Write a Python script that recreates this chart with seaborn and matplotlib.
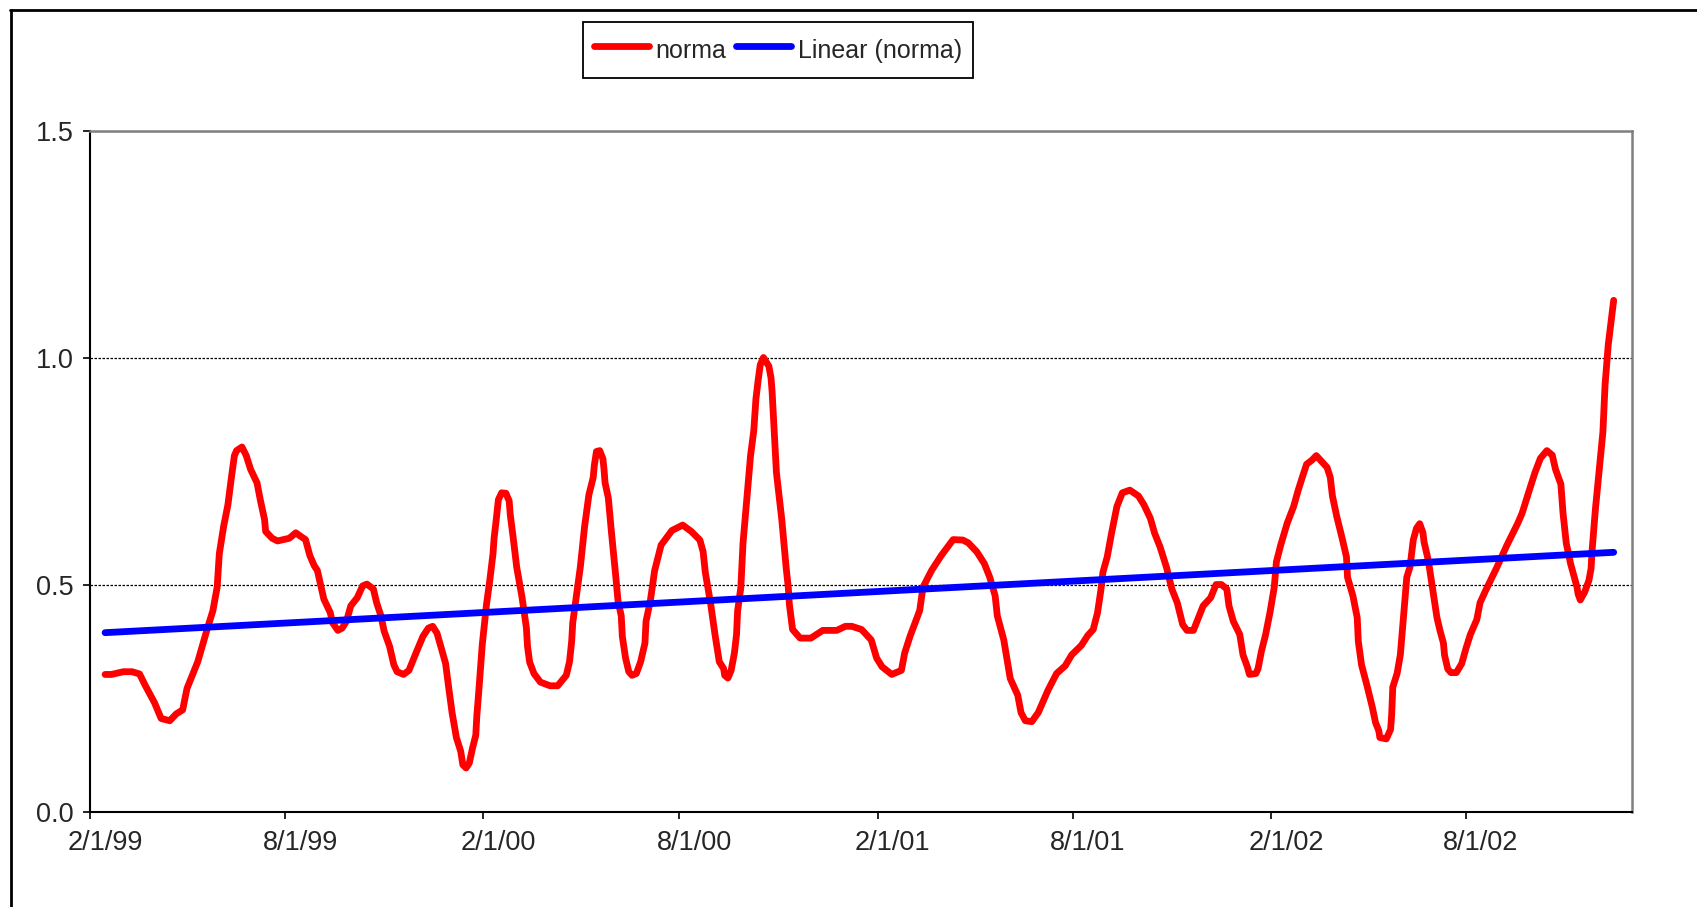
import matplotlib
matplotlib.use("Agg")
import matplotlib.pyplot as plt
import matplotlib.dates as mdates
import matplotlib.transforms as mtransforms
from matplotlib.lines import Line2D
import pandas as pd
import seaborn as sns

# x values are days counted from start_date
start_date = "1999-02-01"
norma_days = [
    14, 20, 31, 39, 46, 51, 60, 66, 74, 80, 86, 90, 100, 109, 114, 118, 120, 124, 128, 131,
    134, 136, 141, 145, 149, 155, 158, 162, 163, 169, 174, 185, 191, 195, 200, 204, 208, 211,
    217, 223, 225, 230, 234, 238, 242, 248, 253, 257, 263, 266, 270, 273, 278, 282, 285, 291,
    296, 303, 309, 314, 318, 322, 326, 330, 333, 336, 340, 344, 346, 349, 352, 355, 358, 359,
    361, 364, 368, 371, 374, 375, 377, 379, 382, 386, 389, 390, 393, 396, 401, 405, 406, 408,
    412, 418, 427, 434, 442, 445, 447, 448, 452, 455, 459, 463, 467, 468, 470, 473, 476, 477,
    478, 481, 484, 488, 490, 493, 494, 497, 500, 503, 507, 511, 515, 516, 520, 524, 530, 540,
    550, 558, 566, 569, 571, 576, 580, 584, 588, 589, 592, 595, 598, 600, 601, 604, 606, 610,
    613, 616, 618, 620, 622, 625, 630, 632, 633, 635, 637, 642, 646, 648, 649, 652, 659, 669,
    680, 693, 701, 707, 716, 725, 730, 735, 744, 753, 756, 761, 770, 773, 781, 790, 801, 810,
    815, 823, 830, 835, 840, 842, 848, 854, 861, 864, 868, 874, 880, 889, 897, 905, 911, 920,
    926, 931, 935, 938, 940, 944, 948, 953, 958, 965, 973, 978, 984, 988, 993, 999, 1004, 1009,
    1014, 1018, 1024, 1028, 1033, 1040, 1045, 1050, 1055, 1057, 1061, 1067, 1070, 1074, 1076,
    1082, 1084, 1087, 1091, 1095, 1099, 1101, 1105, 1111, 1117, 1121, 1125, 1129, 1134, 1138,
    1143, 1148, 1151, 1153, 1157, 1162, 1166, 1167, 1172, 1176, 1177, 1180, 1185, 1190, 1193,
    1196, 1197, 1203, 1207, 1208, 1209, 1213, 1216, 1219, 1222, 1225, 1228, 1231, 1234, 1237,
    1238, 1242, 1246, 1250, 1253, 1256, 1257, 1260, 1263, 1268, 1273, 1277, 1281, 1287, 1290,
    1295, 1305, 1315, 1325, 1329, 1336, 1341, 1346, 1352, 1357, 1360, 1365, 1367, 1370, 1374,
    1377, 1380, 1381, 1383, 1387, 1391, 1393, 1394, 1397, 1401, 1404, 1406, 1409, 1414,
]
norma_values = [
    0.303, 0.303, 0.309, 0.309, 0.304, 0.280, 0.240, 0.206, 0.201, 0.216, 0.225, 0.272, 0.331,
    0.405, 0.443, 0.495, 0.569, 0.629, 0.677, 0.733, 0.785, 0.796, 0.804, 0.785, 0.755, 0.725,
    0.688, 0.644, 0.618, 0.603, 0.597, 0.603, 0.615, 0.608, 0.600, 0.565, 0.543, 0.532, 0.469,
    0.439, 0.417, 0.400, 0.405, 0.420, 0.454, 0.472, 0.498, 0.502, 0.491, 0.461, 0.432, 0.398,
    0.365, 0.324, 0.309, 0.303, 0.312, 0.353, 0.387, 0.405, 0.409, 0.394, 0.361, 0.327, 0.272,
    0.219, 0.164, 0.134, 0.104, 0.097, 0.108, 0.141, 0.169, 0.212, 0.272, 0.368, 0.458, 0.510,
    0.569, 0.603, 0.644, 0.688, 0.703, 0.702, 0.685, 0.655, 0.599, 0.539, 0.472, 0.405, 0.365,
    0.330, 0.305, 0.286, 0.278, 0.278, 0.301, 0.331, 0.376, 0.417, 0.487, 0.539, 0.629, 0.699,
    0.737, 0.763, 0.794, 0.796, 0.778, 0.755, 0.725, 0.692, 0.614, 0.517, 0.465, 0.432, 0.387,
    0.339, 0.309, 0.301, 0.305, 0.331, 0.372, 0.420, 0.465, 0.532, 0.588, 0.620, 0.632, 0.618,
    0.599, 0.573, 0.528, 0.458, 0.391, 0.331, 0.316, 0.301, 0.295, 0.312, 0.350, 0.391, 0.443,
    0.495, 0.592, 0.703, 0.785, 0.840, 0.910, 0.950, 0.985, 1.001, 0.982, 0.956, 0.926, 0.837,
    0.748, 0.644, 0.539, 0.495, 0.458, 0.402, 0.383, 0.383, 0.400, 0.400, 0.409, 0.409, 0.402,
    0.379, 0.339, 0.320, 0.303, 0.312, 0.350, 0.387, 0.444, 0.495, 0.532, 0.565, 0.600, 0.599,
    0.593, 0.573, 0.547, 0.517, 0.476, 0.432, 0.379, 0.294, 0.257, 0.219, 0.201, 0.199, 0.219,
    0.268, 0.305, 0.322, 0.346, 0.367, 0.389, 0.402, 0.439, 0.487, 0.528, 0.562, 0.614, 0.673,
    0.703, 0.709, 0.696, 0.677, 0.647, 0.614, 0.584, 0.539, 0.491, 0.461, 0.413, 0.400, 0.400,
    0.424, 0.454, 0.472, 0.501, 0.501, 0.491, 0.454, 0.420, 0.391, 0.346, 0.320, 0.303, 0.305,
    0.316, 0.353, 0.391, 0.439, 0.495, 0.551, 0.588, 0.636, 0.673, 0.707, 0.737, 0.766, 0.775,
    0.785, 0.772, 0.759, 0.737, 0.696, 0.651, 0.603, 0.562, 0.517, 0.476, 0.428, 0.376, 0.324,
    0.279, 0.231, 0.197, 0.179, 0.164, 0.161, 0.182, 0.216, 0.275, 0.305, 0.346, 0.432, 0.517,
    0.540, 0.599, 0.625, 0.635, 0.615, 0.595, 0.554, 0.491, 0.428, 0.398, 0.372, 0.346, 0.315,
    0.307, 0.307, 0.327, 0.361, 0.391, 0.424, 0.461, 0.487, 0.536, 0.588, 0.636, 0.658, 0.711,
    0.748, 0.779, 0.796, 0.786, 0.755, 0.722, 0.658, 0.592, 0.547, 0.521, 0.495, 0.480, 0.467,
    0.484, 0.510, 0.536, 0.577, 0.666, 0.763, 0.837, 0.941, 1.030, 1.127,
]
trend_days = [14, 1414]
trend_values = [0.395, 0.572]

x_tick_dates = ["1999-02-01", "1999-08-01", "2000-02-01", "2000-08-01",
                "2001-02-01", "2001-08-01", "2002-02-01", "2002-08-01"]
x_end_date = "2003-01-02"
y_ticks = [0.0, 0.5, 1.0, 1.5]

sns.set_style("white")
plt.rcParams["font.family"] = ["Liberation Sans", "DejaVu Sans"]

base = pd.Timestamp(start_date)
norma = pd.DataFrame({"date": base + pd.to_timedelta(norma_days, unit="D"),
                      "value": norma_values})
trend = pd.DataFrame({"date": base + pd.to_timedelta(trend_days, unit="D"),
                      "value": trend_values})

W, H = 1697, 907
fig = plt.figure(figsize=(W / 100, H / 100), dpi=100)
ax = fig.add_axes([90 / W, 1 - 812 / H, (1632 - 90) / W, (812 - 131) / H])

line_kw = dict(linewidth=4.9, solid_capstyle="round", solid_joinstyle="round")
sns.lineplot(data=norma, x="date", y="value", color="#FF0000", ax=ax,
             label="norma", **line_kw)
sns.lineplot(data=trend, x="date", y="value", color="#0000FF", ax=ax,
             label="Linear (norma)", **line_kw)

ax.set_xlim(base, pd.Timestamp(x_end_date))
ax.set_ylim(y_ticks[0], y_ticks[-1])
ax.set_xticks(pd.to_datetime(x_tick_dates))
ax.xaxis.set_major_formatter(
    plt.FuncFormatter(lambda v, _: "{d.month}/{d.day}/{d:%y}".format(d=mdates.num2date(v))))
ax.set_yticks(y_ticks)
ax.set_yticklabels([f"{t:.1f}" for t in y_ticks])
ax.set_xlabel("")
ax.set_ylabel("")

ax.grid(axis="y", color="black", linestyle=(0, (2, 1.2)), linewidth=0.9)
ax.set_axisbelow(True)
for side in ["left", "bottom"]:
    ax.spines[side].set_color("black")
    ax.spines[side].set_linewidth(1.5)
for side in ["top", "right"]:
    ax.spines[side].set_color("#808080")
    ax.spines[side].set_linewidth(1.8)
ax.tick_params(direction="out", length=5, width=1.2, color="black",
               labelsize=19.5, pad=7, left=True, bottom=True)
ax.tick_params(axis="x", pad=8)

# Excel puts the date labels a little right of their tick marks
shift = mtransforms.ScaledTranslation(15 / 100, 0, fig.dpi_scale_trans)
for lab in ax.get_xticklabels():
    lab.set_transform(lab.get_transform() + shift)

ax.legend(loc="center", bbox_to_anchor=(778 / W, 1 - 50 / H),
          bbox_transform=fig.transFigure, ncol=2, frameon=True, fancybox=False,
          edgecolor="black", framealpha=1, fontsize=18, handlelength=2.2,
          handleheight=1.7, handletextpad=0.25, columnspacing=0.4, borderpad=0.45)
ax.get_legend().get_frame().set_linewidth(1.3)

# outer chart-area border (only top and left are visible in the crop)
fig.add_artist(Line2D([10 / W, 1.01], [1 - 9.5 / H] * 2,
                      transform=fig.transFigure, color="black", linewidth=2))
fig.add_artist(Line2D([10.5 / W] * 2, [-0.01, 1 - 9.5 / H],
                      transform=fig.transFigure, color="black", linewidth=2))

fig.savefig("out.png", dpi=100)
